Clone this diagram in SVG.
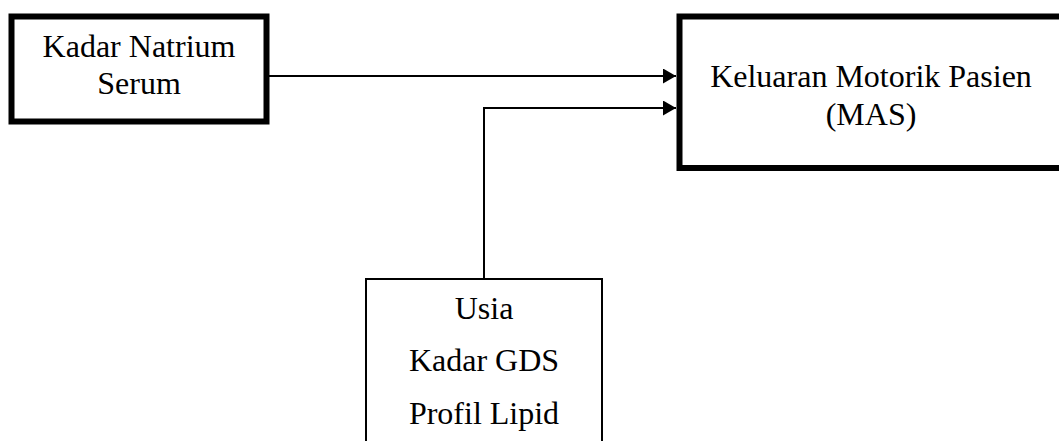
<svg xmlns="http://www.w3.org/2000/svg" width="1059" height="441" viewBox="0 0 1059 441">
  <style>
    .thick { fill: #fff; stroke: #000; stroke-width: 6; }
    .thin { fill: #fff; stroke: #000; stroke-width: 2; }
    .wire { fill: none; stroke: #000; stroke-width: 2; }
    text { font-family: "Liberation Serif", "Times New Roman", serif; font-size: 32px; fill: #000; text-anchor: middle; }
  </style>
  <defs>
    <marker id="arrow" markerUnits="userSpaceOnUse" markerWidth="14" markerHeight="16" refX="13" refY="7.5" orient="auto">
      <path d="M0,0 L13,7.5 L0,15 z" fill="#000"/>
    </marker>
  </defs>

  <g id="connectors">
    <line class="wire" x1="269" y1="76" x2="676" y2="76" marker-end="url(#arrow)"/>
    <polyline class="wire" points="484,279 484,108 676,108" marker-end="url(#arrow)"/>
  </g>

  <g id="natrium">
    <rect class="thick" x="11.5" y="16.5" width="255" height="105"/>
    <text x="139" y="57">Kadar Natrium</text>
    <text x="139" y="94">Serum</text>
  </g>

  <g id="motorik">
    <rect class="thick" x="679.5" y="16.5" width="420" height="151.5"/>
    <text x="871" y="87">Keluaran Motorik Pasien</text>
    <text x="871" y="125">(MAS)</text>
  </g>

  <g id="confounders">
    <rect class="thin" x="366" y="279" width="236" height="200"/>
    <text x="484" y="319">Usia</text>
    <text x="484" y="371">Kadar GDS</text>
    <text x="484" y="424">Profil Lipid</text>
  </g>
</svg>
